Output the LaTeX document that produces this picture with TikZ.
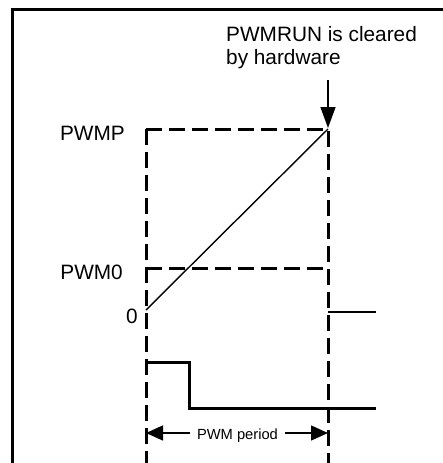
\documentclass[tikz,border=0pt]{standalone}
\usepackage{fontspec}
\setmainfont{Liberation Sans}
\usetikzlibrary{arrows.meta}
\begin{document}
\begin{tikzpicture}[x=1pt,y=-1pt,
  frame/.style={line width=3pt},
  guide/.style={line width=3pt, dash pattern=on 16pt off 7pt},
  thinline/.style={line width=1.4pt},
  thickline/.style={line width=3pt},
  lbl/.style={inner sep=0pt, font=\fontsize{20.8}{23}\selectfont},
  small/.style={inner sep=0pt, font=\fontsize{14.7}{17}\selectfont},
  tip/.style={-{Triangle[length=21pt,width=15pt]}},
  ptip/.style={-{Triangle[length=17pt,width=15pt]}}
]
\useasboundingbox (0,0) rectangle (443,463);
% frame (top and left only)
\coordinate (fbl) at (12.5,463);
\coordinate (ftl) at (12.5,9.5);
\coordinate (ftr) at (443,9.5);
\draw[frame] (fbl) -- (ftl) -- (ftr);

% key points
\coordinate (Lb) at (146,463);
\coordinate (Lp) at (146,129);
\coordinate (Rp) at (328,129);
\coordinate (Rb) at (328,463);
\coordinate (L0) at (146,268);
\coordinate (R0) at (328,268);
\coordinate (Z) at (146,310);
\coordinate (Rz) at (328,312);
\coordinate (Ez) at (376,312);
\coordinate (Ha) at (146,362);
\coordinate (Hb) at (189,362);
\coordinate (Hc) at (189,408);
\coordinate (Hd) at (376,408);
\coordinate (Atop) at (328,80);
\coordinate (Atip) at (328,128);
\coordinate (PL) at (146,433);
\coordinate (PR) at (328,433);

% dashed guides
\draw[guide] (Lp) -- (Lb);
\draw[guide] (Lp) -- (Rp) -- (Rb);
\draw[guide] (L0) -- (R0);

% ramp and signals
\draw[thinline] (Z) -- (Rp);
\draw[thinline] (Rz) -- (Ez);
\draw[thickline] (Ha) -- (Hb) -- (Hc) -- (Hd);

% top arrow
\draw[thinline, tip] (Atop) -- (Atip);

% labels
\node[lbl, anchor=base west] (t1) at (226,41) {PWMRUN is cleared};
\node[lbl, anchor=base west] (t2) at (226,64) {by hardware};
\node[lbl, anchor=base east] (pwmp) at (125,140) {PWMP};
\node[lbl, anchor=base east] (pwm0) at (123,279) {PWM0};
\node[lbl, anchor=base east] (zero) at (138,323) {0};

% PWM period
\node[small, anchor=base, inner xsep=7pt] (per) at (237.5,439) {PWM period};
\draw[thinline, ptip] (per.west |- PL) -- (PL);
\draw[thinline, ptip] (per.east |- PR) -- (PR);
\end{tikzpicture}
\end{document}
